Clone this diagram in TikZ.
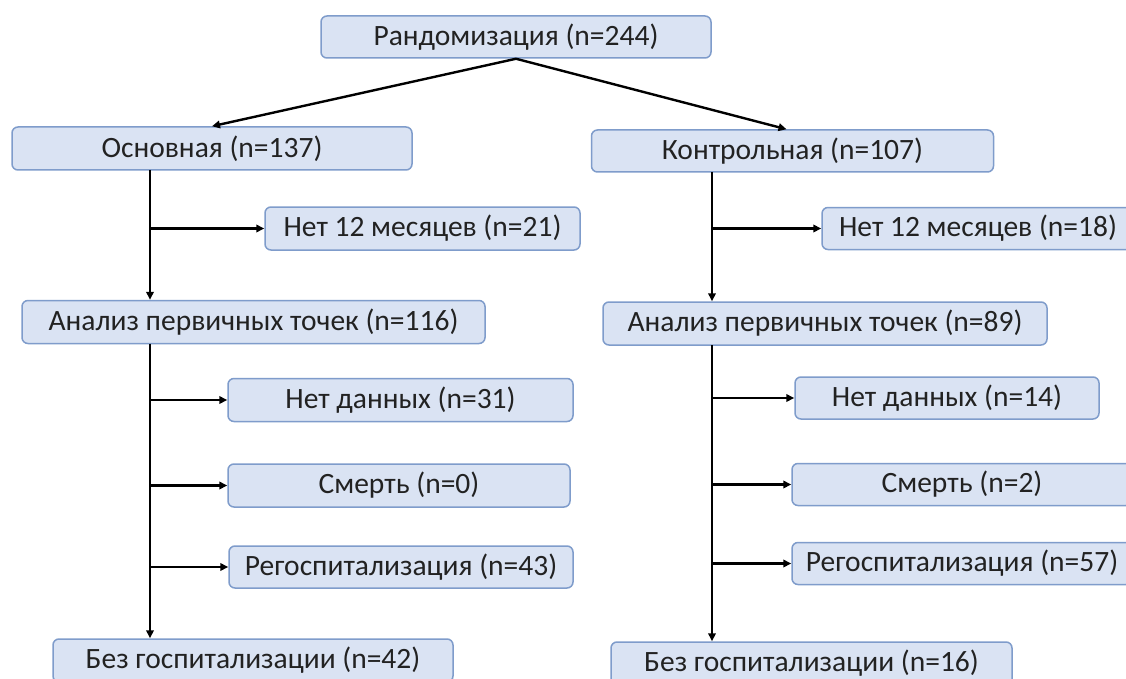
\documentclass[tikz,border=0pt]{standalone}
\usepackage{fontspec}
\setmainfont{Carlito}
\usetikzlibrary{arrows.meta}
\definecolor{boxfill}{HTML}{DAE3F3}
\definecolor{boxline}{HTML}{7F9CCB}
\definecolor{txt}{HTML}{222222}
\tikzset{
  box/.style={draw=boxline, fill=boxfill, line width=1.5pt, rounded corners=6pt,
    inner sep=0pt, text=txt, font=\fontsize{29.5}{33}\selectfont},
  arr/.style={line width=2.4pt, -{Triangle[length=8pt,width=7.5pt]}},
}
\begin{document}
\begin{tikzpicture}[x=1pt,y=-1pt]
\useasboundingbox (0,0) rectangle (1126,679);
\clip (0,0) rectangle (1126,679);
\fill[white] (0,0) rectangle (1126,679);
% boxes
\node[box, minimum width=390pt, minimum height=42pt] (top) at (516,37) {Рандомизация (n=244)};
\node[box, minimum width=400pt, minimum height=43pt] (osn) at (212,148.5) {Основная (n=137)};
\node[box, minimum width=402pt, minimum height=42pt] (kon) at (792.5,151) {Контрольная (n=107)};
\node[box, minimum width=315pt, minimum height=43pt] (n1L) at (422.5,228.5) {Нет 12 месяцев (n=21)};
\node[box, minimum width=312pt, minimum height=42pt] (n1R) at (978,228.5) {Нет 12 месяцев (n=18)};
\node[box, minimum width=463pt, minimum height=43pt] (anL) at (253.5,322) {Анализ первичных точек (n=116)};
\node[box, minimum width=444pt, minimum height=43pt] (anR) at (825,323.5) {Анализ первичных точек (n=89)};
\node[box, minimum width=345pt, minimum height=43pt] (ndL) at (400.5,400) {Нет данных (n=31)};
\node[box, minimum width=304pt, minimum height=42pt] (ndR) at (947,398) {Нет данных (n=14)};
\node[box, minimum width=342pt, minimum height=43pt] (smL) at (399,485.5) {Смерть (n=0)};
\node[box, minimum width=340pt, minimum height=42pt] (smR) at (962,484.5) {Смерть (n=2)};
\node[box, minimum width=344pt, minimum height=42pt] (rgL) at (401,567) {Регоспитализация (n=43)};
\node[box, minimum width=340pt, minimum height=42pt] (rgR) at (962,563.5) {Регоспитализация (n=57)};
\node[box, minimum width=400pt, minimum height=43pt] (bgL) at (253,660.5) {Без госпитализации (n=42)};
\node[box, minimum width=401pt, minimum height=43pt] (bgR) at (811.5,663.5) {Без госпитализации (n=16)};
% trunk coordinates
\coordinate (tL1) at (150,170);
\coordinate (tL2) at (150,343.5);
\coordinate (tR1) at (712,172);
\coordinate (tR2) at (712,345);
% connectors
\draw[arr] (top.south) -- (osn.north);
\draw[arr] (top.south) -- ([xshift=-6pt]kon.north);
\draw[arr] (tL1) -- (tL1 |- anL.north);
\draw[arr] (tL1 |- n1L.west) -- (n1L.west);
\draw[arr] (tR1) -- (tR1 |- anR.north);
\draw[arr] (tR1 |- n1R.west) -- (n1R.west);
\draw[arr] (tL2) -- (tL2 |- bgL.north);
\draw[arr] (tL2 |- ndL.west) -- (ndL.west);
\draw[arr] (tL2 |- smL.west) -- (smL.west);
\draw[arr] (tL2 |- rgL.west) -- (rgL.west);
\draw[arr] (tR2) -- (tR2 |- bgR.north);
\draw[arr] (tR2 |- ndR.west) -- (ndR.west);
\draw[arr] (tR2 |- smR.west) -- (smR.west);
\draw[arr] (tR2 |- rgR.west) -- (rgR.west);
\end{tikzpicture}
\end{document}
